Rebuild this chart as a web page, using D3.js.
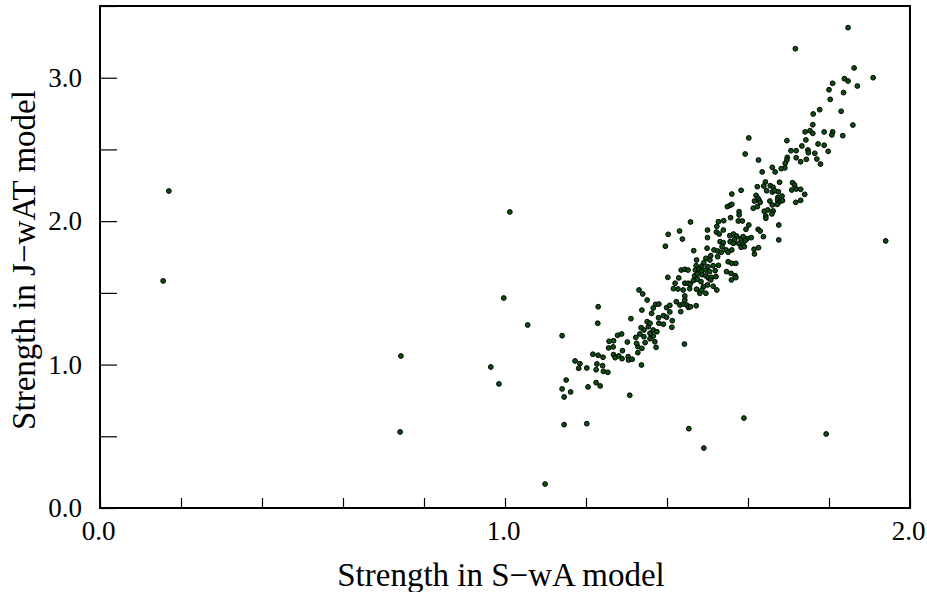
<!DOCTYPE html>
<html>
<head>
<meta charset="utf-8">
<script src="https://cdn.jsdelivr.net/npm/d3@7/dist/d3.min.js"></script>
<style>
  html, body { margin: 0; padding: 0; background: #fff; }
  svg { display: block; }
  text { font-family: "Liberation Serif", "Times New Roman", serif; fill: #000; }
</style>
</head>
<body>
<svg id="chart" width="927" height="592"></svg>
<script>
// ---- data (x: strength in S-wA model, y: strength in J-wAT model) ----
const xTitle = "Strength in S\u2212wA model";
const yTitle = "Strength in J\u2212wAT model";
const xTickValues = [0, 0.2, 0.4, 0.6, 0.8, 1.0, 1.2, 1.4, 1.6, 1.8, 2.0];
const xTickLabels = { 0: "0.0", 1: "1.0", 2: "2.0" };
const yTickValues = [0, 0.5, 1.0, 1.5, 2.0, 2.5, 3.0, 3.5];
const yTickLabels = { 0: "0.0", 1: "1.0", 2: "2.0", 3: "3.0" };

const outliers = [
  [0.156,1.583],[0.170,2.210],[0.743,1.060],[0.741,0.530],[0.965,0.983],[0.985,0.865],
  [0.997,1.464],[1.012,2.064],[1.056,1.276],[1.099,0.167],[1.141,1.201],[1.146,0.581],
  [1.202,0.588],[1.308,0.786],[1.454,0.553],[1.491,0.418],[1.590,0.627],[1.793,0.516],
  [1.940,1.862],[1.847,3.349],[1.717,3.202]
];
const lowCluster = [
  [1.230,1.403],[1.229,1.288],[1.331,1.520],[1.340,1.492],[1.351,1.450],[1.311,1.320],[1.338,1.380],
  [1.151,0.892],[1.141,0.830],[1.146,0.774],[1.162,0.809],[1.205,0.844],[1.225,0.874],[1.235,0.851],
  [1.173,1.025],[1.185,1.006],[1.182,0.974],[1.202,0.976],[1.217,1.072],[1.230,1.065],[1.242,1.051],
  [1.227,1.004],[1.241,0.992],[1.225,0.964],[1.243,0.953],[1.254,0.946],[1.337,0.997],[1.443,1.143],
  [1.257,1.162],[1.268,1.166],[1.278,1.204],[1.288,1.213],[1.302,1.157],[1.256,1.116],[1.267,1.123],
  [1.290,1.097],[1.268,1.069],[1.272,1.048],[1.281,1.060],[1.289,1.041],[1.304,1.055],[1.305,1.032],
  [1.314,1.037],[1.328,1.083],[1.328,1.125],[1.325,1.148],[1.338,1.113],[1.323,1.190],[1.333,1.213],
  [1.343,1.194],[1.336,1.257],[1.343,1.241],[1.354,1.264],[1.346,1.153],[1.358,1.180],[1.366,1.199],
  [1.370,1.159],[1.373,1.120],[1.358,1.218],[1.366,1.241],[1.375,1.229],[1.351,1.299],[1.358,1.288],
  [1.362,1.357],[1.379,1.327],[1.380,1.288],[1.391,1.341],[1.399,1.330],[1.413,1.306],[1.412,1.260],
  [1.391,1.281],[1.366,1.394],[1.372,1.420],[1.380,1.422],[1.399,1.397],[1.407,1.413],[1.407,1.367],
  [1.423,1.438],[1.434,1.369],[1.432,1.415],[1.440,1.422],[1.444,1.450],[1.449,1.415],[1.453,1.399],
  [1.444,1.478],[1.416,1.529],[1.420,1.567],[1.444,1.567],[1.452,1.567],[1.440,1.520],[1.427,1.527],
  [1.456,1.529]
];
const midCluster = [
  [1.560,2.189],[1.549,2.101],[1.556,2.110],[1.560,2.117],[1.578,2.066],[1.578,2.043],[1.557,2.024],
  [1.576,2.001],[1.586,2.001],[1.602,1.973],[1.595,1.943],[1.458,1.994],[1.527,1.996],[1.540,2.003],
  [1.523,1.964],[1.539,1.938],[1.500,1.938],[1.522,1.924],[1.529,1.910],[1.431,1.931],[1.403,1.908],
  [1.438,1.875],[1.396,1.825],[1.500,1.885],[1.555,1.898],[1.564,1.910],[1.572,1.896],[1.567,1.873],
  [1.583,1.878],[1.588,1.892],[1.598,1.878],[1.531,1.857],[1.539,1.850],[1.556,1.857],[1.564,1.845],
  [1.577,1.845],[1.587,1.839],[1.593,1.864],[1.583,1.818],[1.591,1.822],[1.499,1.811],[1.516,1.799],
  [1.525,1.792],[1.536,1.822],[1.546,1.799],[1.551,1.783],[1.560,1.799],[1.466,1.794],[1.508,1.759],
  [1.525,1.752],[1.534,1.783],[1.496,1.741],[1.506,1.729],[1.473,1.729],[1.551,1.717],[1.560,1.706],
  [1.570,1.706],[1.472,1.689],[1.486,1.687],[1.491,1.710],[1.501,1.682],[1.514,1.689],[1.527,1.692],
  [1.435,1.659],[1.444,1.664],[1.452,1.659],[1.470,1.659],[1.479,1.666],[1.486,1.654],[1.496,1.659],
  [1.505,1.648],[1.519,1.654],[1.547,1.648],[1.558,1.636],[1.568,1.620],[1.570,1.606],[1.468,1.618],
  [1.475,1.631],[1.486,1.627],[1.496,1.618],[1.502,1.604],[1.510,1.608],[1.521,1.613],[1.559,1.590],
  [1.402,1.608],[1.429,1.604],[1.465,1.585],[1.475,1.595],[1.484,1.578],[1.508,1.590],[1.457,1.560],
  [1.490,1.543],[1.500,1.555],[1.514,1.546],[1.473,1.525],[1.481,1.497],[1.486,1.520],[1.496,1.497],
  [1.523,1.520],[1.472,1.410],[1.458,1.403]
];
const highCluster = [
  [1.761,2.747],[1.760,2.672],[1.741,2.622],[1.753,2.631],[1.760,2.612],[1.788,2.622],[1.743,2.566],
  [1.602,2.580],[1.696,2.561],[1.773,2.538],[1.788,2.529],[1.733,2.524],[1.798,2.487],[1.706,2.491],
  [1.719,2.491],[1.748,2.496],[1.749,2.477],[1.765,2.473],[1.593,2.468],[1.697,2.445],[1.696,2.426],
  [1.719,2.442],[1.744,2.431],[1.770,2.433],[1.730,2.414],[1.626,2.426],[1.779,2.398],[1.692,2.403],
  [1.691,2.371],[1.682,2.366],[1.660,2.375],[1.667,2.343],[1.635,2.343],[1.643,2.273],[1.639,2.245],
  [1.623,2.240],[1.655,2.247],[1.662,2.236],[1.678,2.271],[1.710,2.268],[1.715,2.252],[1.646,2.212],
  [1.660,2.203],[1.666,2.212],[1.719,2.224],[1.708,2.217],[1.730,2.222],[1.740,2.187],[1.583,2.215],
  [1.675,2.205],[1.674,2.166],[1.684,2.175],[1.620,2.180],[1.616,2.140],[1.625,2.159],[1.628,2.143],
  [1.623,2.101],[1.613,2.090],[1.630,2.131],[1.654,2.140],[1.673,2.147],[1.677,2.133],[1.672,2.117],
  [1.660,2.113],[1.685,2.143],[1.718,2.131],[1.730,2.145],[1.640,2.069],[1.649,2.078],[1.662,2.071],
  [1.659,2.050],[1.644,2.036],[1.644,2.020],[1.676,1.973],[1.676,1.869],[1.625,1.943],[1.630,1.931],
  [1.638,1.892],[1.626,1.815],[1.615,1.804],[1.616,1.771],[1.608,1.885]
];
const topCluster = [
  [1.862,3.068],[1.909,3.000],[1.838,2.993],[1.847,2.977],[1.809,2.961],[1.870,2.942],[1.800,2.916],
  [1.836,2.896],[1.803,2.849],[1.777,2.777],[1.830,2.766],[1.859,2.670],[1.809,2.622],[1.807,2.601],
  [1.834,2.596]
];
const points = [].concat(outliers, lowCluster, midCluster, highCluster, topCluster);

// ---- layout ----
const svg = d3.select("#chart");
const mLeft = 100, mRight = 910, mTop = 6, mBottom = 508;
const x = d3.scaleLinear().domain([0, 2]).range([mLeft, mRight]);
const y = d3.scaleLinear().domain([0, 3.5]).range([mBottom, mTop]);

// x axis (ticks pointing inward)
const gx = svg.append("g").attr("transform", `translate(0,${mBottom})`)
  .call(d3.axisBottom(x).tickValues(xTickValues).tickSize(-10).tickPadding(13)
    .tickFormat(d => xTickLabels[Math.round(d * 10) / 10] || ""));
gx.select(".domain").remove();
gx.selectAll(".tick line").attr("stroke", "#000").attr("stroke-width", 1.2);
gx.selectAll(".tick text").attr("font-size", 27).attr("font-family", "Liberation Serif").attr("dx", "-2");

// y axis
const gy = svg.append("g").attr("transform", `translate(${mLeft},0)`)
  .call(d3.axisLeft(y).tickValues(yTickValues).tickSize(-17).tickPadding(18)
    .tickFormat(d => yTickLabels[Math.round(d * 10) / 10] || ""));
gy.select(".domain").remove();
gy.selectAll(".tick line").attr("stroke", "#000").attr("stroke-width", 1.2);
gy.selectAll(".tick text").attr("font-size", 27).attr("font-family", "Liberation Serif");

// frame
svg.append("rect").attr("x", mLeft).attr("y", mTop)
  .attr("width", mRight - mLeft).attr("height", mBottom - mTop)
  .attr("fill", "none").attr("stroke", "#000").attr("stroke-width", 2);

// points
svg.append("g").selectAll("circle").data(points).join("circle")
  .attr("cx", d => x(d[0])).attr("cy", d => y(d[1]))
  .attr("r", 2.4).attr("fill", "#0a5010").attr("stroke", "#000").attr("stroke-width", 1);

// titles
svg.append("text").attr("x", (mLeft + mRight) / 2 - 4).attr("y", 586)
  .attr("text-anchor", "middle").attr("font-size", 33).text(xTitle);
svg.append("text").attr("transform", `translate(35,${(mTop + mBottom) / 2 + 3}) rotate(-90)`)
  .attr("text-anchor", "middle").attr("font-size", 33).text(yTitle);
</script>
</body>
</html>
